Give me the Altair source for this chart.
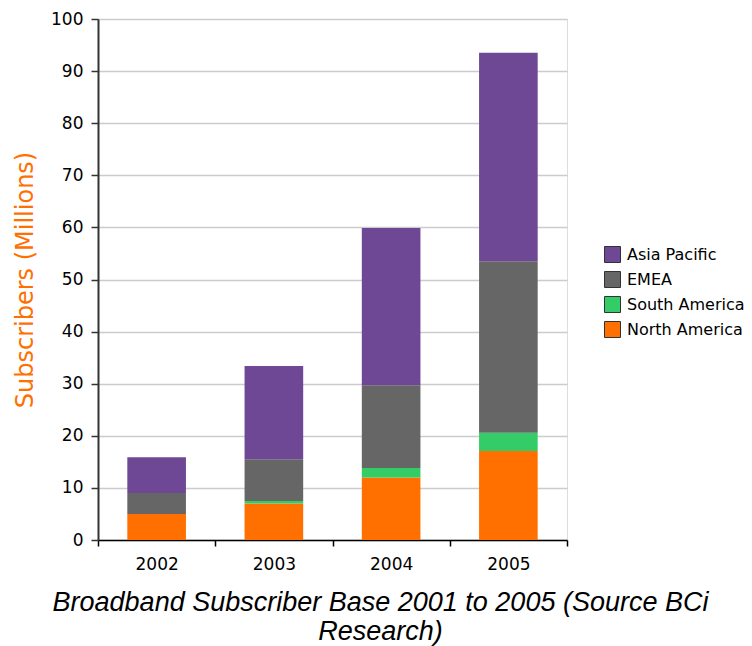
import altair as alt
import pandas as pd

years = ["2002", "2003", "2004", "2005"]
regions = ["Asia Pacific", "EMEA", "South America", "North America"]
colors = ["#6E4895", "#666666", "#33CC66", "#FF7000"]

north_america = [5.0, 7.0, 12.0, 17.1]
south_america = [0.0, 0.5, 1.8, 3.5]
emea = [4.0, 8.0, 15.9, 32.9]
asia_pacific = [6.9, 17.9, 30.2, 40.0]

series = {
    "North America": north_america,
    "South America": south_america,
    "EMEA": emea,
    "Asia Pacific": asia_pacific,
}
stack_rank = {"North America": 0, "South America": 1, "EMEA": 2, "Asia Pacific": 3}

rows = []
for region, vals in series.items():
    for y, v in zip(years, vals):
        rows.append({"Year": y, "Region": region, "Value": v, "rank": stack_rank[region]})
df = pd.DataFrame(rows)

font = "DejaVu Sans"

bars = alt.Chart(df).mark_bar(width=alt.RelativeBandSize(0.5)).encode(
    x=alt.X(
        "Year:N",
        sort=years,
        scale=alt.Scale(paddingInner=0, paddingOuter=0),
        axis=alt.Axis(
            title=None,
            labelAngle=0,
            tickBand="extent",
            labelFont=font,
            labelFontSize=17,
            labelColor="#000000",
            labelPadding=10,
            domainColor="#000000",
            domainWidth=1.5,
            tickColor="#000000",
            tickWidth=1.5,
            tickSize=6,
        ),
    ),
    y=alt.Y(
        "sum(Value):Q",
        stack="zero",
        scale=alt.Scale(domain=[0, 100], nice=False),
        axis=alt.Axis(
            title="Subscribers (Millions)",
            values=list(range(0, 101, 10)),
            titleFont=font,
            titleFontSize=24,
            titleFontWeight="normal",
            titleColor="#FF7000",
            titlePadding=13,
            labelFont=font,
            labelFontSize=17,
            labelColor="#000000",
            labelPadding=8,
            domainColor="#333333",
            domainWidth=2,
            tickColor="#333333",
            tickWidth=1.5,
            tickSize=7,
            gridColor="#cccccc",
            gridWidth=1.5,
        ),
    ),
    color=alt.Color(
        "Region:N",
        scale=alt.Scale(domain=regions, range=colors),
        legend=alt.Legend(
            title=None,
            orient="none",
            legendX=506,
            legendY=227,
            symbolType="square",
            symbolSize=256,
            symbolStrokeColor="#333333",
            symbolStrokeWidth=1,
            symbolOpacity=1,
            labelFont=font,
            labelFontSize=16,
            labelColor="#000000",
            rowPadding=4,
            labelOffset=6,
        ),
    ),
    order=alt.Order("rank:Q", sort="ascending"),
)

chart = bars.properties(
    width=469,
    height=521,
    autosize=alt.AutoSizeParams(type="none"),
    padding={"left": 98, "top": 19, "right": 185, "bottom": 106},
    title=alt.TitleParams(
        text=["Broadband Subscriber Base 2001 to 2005 (Source BCi", "Research)"],
        orient="bottom",
        anchor="middle",
        dx=48,
        offset=18,
        font="Liberation Sans",
        fontSize=27,
        fontStyle="italic",
        fontWeight="normal",
        color="#000000",
        lineHeight=29,
    ),
).configure_view(stroke=None).configure(background="white")

chart.save("out.html", embed_options={"renderer": "svg", "actions": False})
